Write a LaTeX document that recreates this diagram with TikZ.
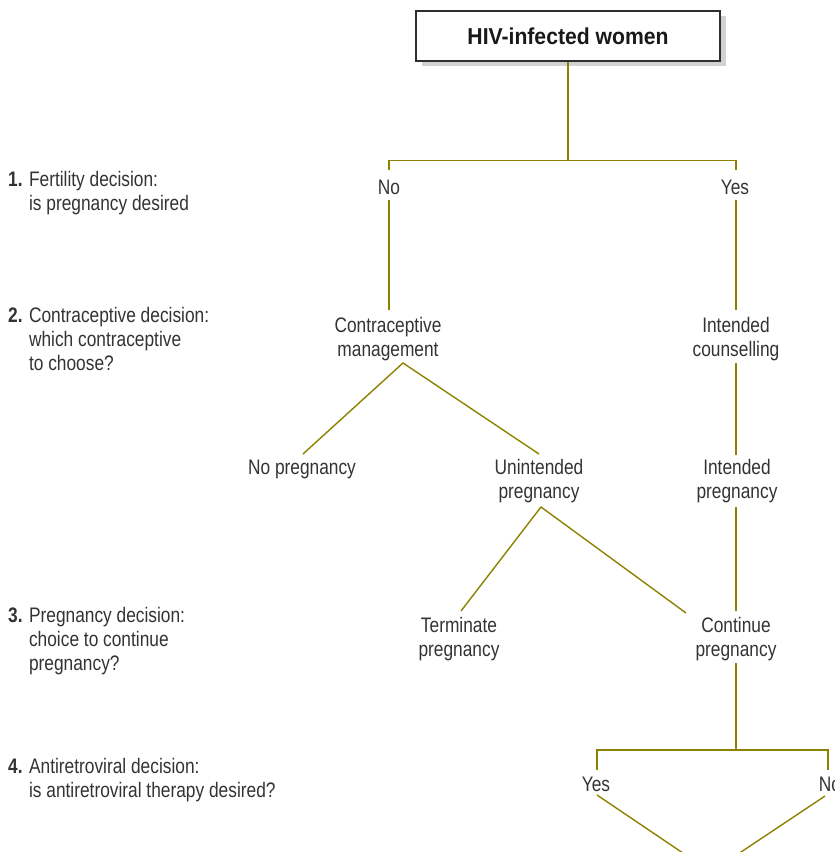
\documentclass[tikz,border=0pt]{standalone}
\usepackage{fontspec}
\setmainfont[FakeStretch=0.825]{Liberation Sans}
\newfontfamily\titlefont[FakeStretch=0.92]{Liberation Sans}
\usetikzlibrary{calc,shadows}
\definecolor{lineol}{HTML}{8C8200}
\definecolor{textgray}{HTML}{333333}
\definecolor{boxgray}{HTML}{2E2E2E}
\definecolor{shadowgray}{HTML}{D2D2D2}
\begin{document}
\begin{tikzpicture}[x=1pt,y=-1pt,
  lbl/.style={font=\fontsize{21}{24}\selectfont, text=textgray, inner sep=0pt, anchor=base, align=center},
  side/.style={font=\fontsize{21}{24}\selectfont, text=textgray, inner sep=0pt, anchor=base west, align=left},
  conn/.style={draw=lineol, line width=1.4pt},
  titlebox/.style={draw=boxgray, line width=1.3pt, fill=white, minimum width=304pt, minimum height=50pt, inner sep=0pt,
    drop shadow={shadow xshift=6pt, shadow yshift=-5pt, fill=shadowgray, opacity=1},
    font=\titlefont\fontsize{23}{26}\selectfont\bfseries, text=black!90}]
\useasboundingbox (0,0) rectangle (835,852);

% title
\node[titlebox] (hiv) at (568,36) {HIV-infected women};

% left side questions (anchored at the baseline of their last line)
\node[side] (q1) at (8,210) {\textbf{1.} Fertility decision:\\\hphantom{\textbf{1.} }is pregnancy desired};
\node[side] (q2) at (8,370) {\textbf{2.} Contraceptive decision:\\\hphantom{\textbf{2.} }which contraceptive\\\hphantom{\textbf{2.} }to choose?};
\node[side] (q3) at (8,670) {\textbf{3.} Pregnancy decision:\\\hphantom{\textbf{3.} }choice to continue\\\hphantom{\textbf{3.} }pregnancy?};
\node[side] (q4) at (8,797) {\textbf{4.} Antiretroviral decision:\\\hphantom{\textbf{4.} }is antiretroviral therapy desired?};

% tree labels (anchored at the baseline of their last line)
\node[lbl] (no1) at (389,194) {No};
\node[lbl] (yes1) at (735,194) {Yes};
\node[lbl] (cm) at (388,356) {Contraceptive\\management};
\node[lbl] (ic) at (736,356) {Intended\\counselling};
\node[lbl] (np) at (302,474) {No pregnancy};
\node[lbl] (up) at (539,498) {Unintended\\pregnancy};
\node[lbl] (ip) at (737,498) {Intended\\pregnancy};
\node[lbl] (tp) at (459,656) {Terminate\\pregnancy};
\node[lbl] (cp) at (736,656) {Continue\\pregnancy};
\node[lbl] (yes2) at (596,791) {Yes};
\node[lbl] (no2) at (830,791) {No};
\coordinate (bot) at (711,872);

% connectors
\draw[conn] (hiv.south) -- ++(0,99) coordinate (j1);
\draw[conn] ($(no1.base)+(0,-24)$) |- (j1) -| ($(yes1.base)+(1,-24)$);
\draw[conn] ($(no1.base)+(0,6)$) -- ($(cm.base)+(1,-46)$);
\draw[conn] ($(yes1.base)+(1,6)$) -- ($(ic.base)+(0,-46)$);
\draw[conn] ($(np.base)+(1,-20)$) -- ($(cm.base)+(15,7)$) -- ($(up.base)+(0,-44)$);
\draw[conn] ($(ic.base)+(0,7)$) -- ($(ip.base)+(-1,-43)$);
\draw[conn] ($(tp.base)+(2,-45)$) -- ($(up.base)+(2,9)$) -- ($(cp.base)+(-50,-43)$);
\draw[conn] ($(ip.base)+(-1,9)$) -- ($(cp.base)+(0,-45)$);
\draw[conn] ($(cp.base)+(0,7)$) -- ++(0,87) coordinate (j2);
\draw[conn] ($(yes2.base)+(1,-21)$) |- (j2) -| ($(no2.base)+(-2,-21)$);
\draw[conn] ($(yes2.base)+(1,4)$) -- (bot);
\draw[conn] ($(no2.base)+(-5,5)$) -- (bot);
\end{tikzpicture}
\end{document}
